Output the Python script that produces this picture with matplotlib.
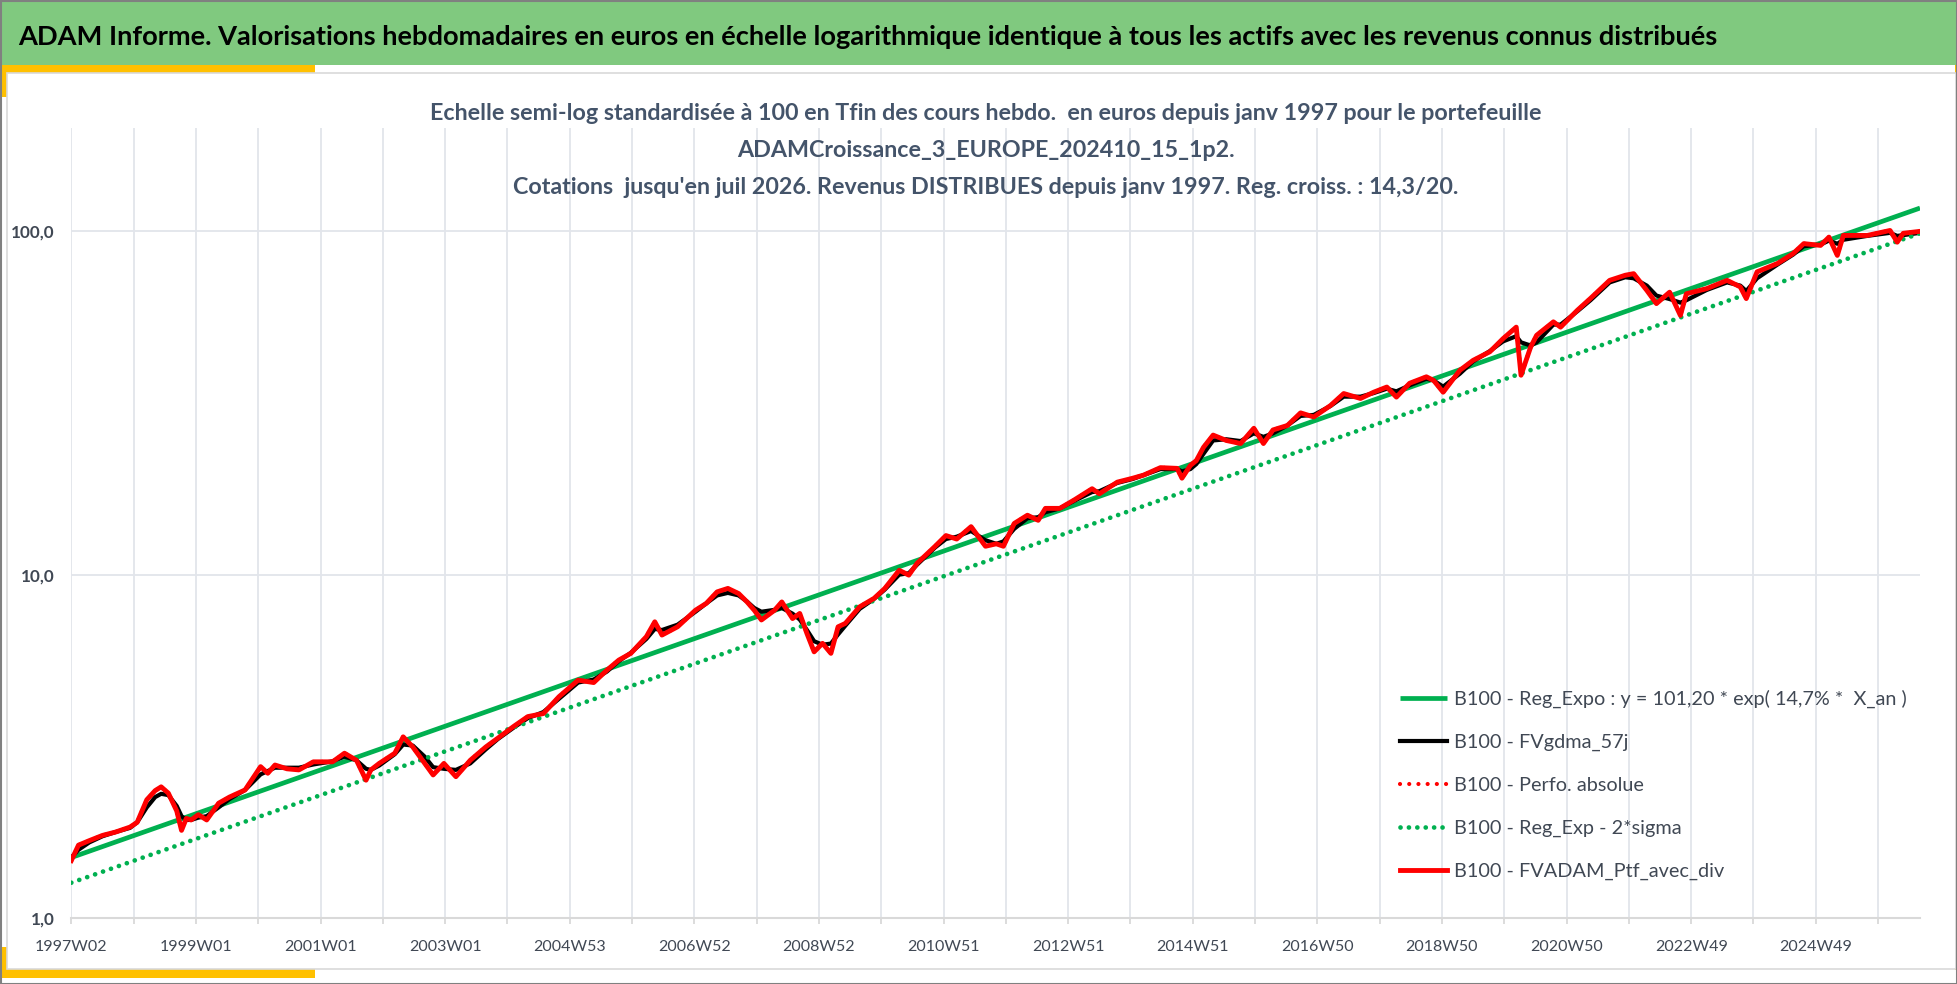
import matplotlib
matplotlib.use("Agg")
import matplotlib.pyplot as plt
from matplotlib.patches import Rectangle
from matplotlib.ticker import FixedLocator, FixedFormatter, NullLocator

W, H = 1958, 984
POLICE = ["Lato", "DejaVu Sans"]

# semaines depuis 1997W02 (index de la categorie hebdo)
semaines = [0, 6, 15, 26, 37, 49, 55, 63, 70, 75, 81, 88, 92, 96, 100, 106, 113, 123, 132, 145,
            158, 164, 170, 180, 190, 202, 218, 228, 238, 246, 250, 257, 270, 277, 285, 295, 302, 311,
            321, 333, 346, 356, 369, 381, 394, 407, 423, 436, 447, 457, 467, 480, 487, 493, 506, 521,
            530, 539, 548, 557, 564, 570, 576, 587, 593, 602, 608, 614, 620, 627, 634, 640, 646, 658,
            670, 679, 691, 699, 706, 721, 730, 739, 751, 763, 772, 778, 787, 798, 807, 813, 825, 837,
            852, 858, 873, 886, 895, 909, 923, 927, 934, 939, 945, 953, 964, 976, 987, 995, 1003, 1015,
            1026, 1037, 1051, 1062, 1076, 1087, 1098, 1106, 1117, 1131, 1137, 1145, 1159, 1170, 1184,
            1195, 1206, 1210, 1218, 1223, 1237, 1243, 1257, 1268, 1284, 1297, 1304, 1315, 1323, 1334,
            1343, 1348, 1365, 1382, 1393, 1398, 1407, 1424, 1437, 1446, 1460, 1467, 1474, 1479, 1499,
            1518, 1524, 1529, 1543]

ptf_avec_div = [1.47, 1.63, 1.68, 1.74, 1.78, 1.84, 1.90, 2.21, 2.35, 2.41, 2.31, 2.05, 1.80, 1.95, 1.93,
                2.00, 1.93, 2.16, 2.25, 2.36, 2.76, 2.64, 2.79, 2.72, 2.70, 2.85, 2.85, 3.02, 2.88, 2.52,
                2.70, 2.82, 3.02, 3.37, 3.15, 2.82, 2.61, 2.82, 2.58, 2.88, 3.15, 3.34, 3.61, 3.86, 3.94,
                4.41, 4.93, 4.85, 5.27, 5.64, 5.90, 6.60, 7.29, 6.67, 7.05, 7.88, 8.25, 8.91, 9.12, 8.81,
                8.33, 7.88, 7.38, 7.88, 8.33, 7.45, 7.71, 6.74, 5.96, 6.31, 5.90, 7.05, 7.21, 8.06, 8.53,
                9.12, 10.3, 9.97, 10.8, 12.1, 13.0, 12.7, 13.8, 12.1, 12.3, 12.1, 14.1, 14.9, 14.4, 15.6,
                15.6, 16.5, 17.8, 17.2, 18.6, 19.1, 19.5, 20.5, 20.4, 19.1, 20.8, 21.5, 23.5, 25.5, 24.6,
                24.1, 26.7, 24.1, 26.4, 27.2, 29.6, 28.8, 31.1, 33.7, 32.6, 34.0, 35.2, 32.9, 36.1, 37.7,
                36.8, 34.0, 39.4, 42.1, 44.6, 48.7, 52.6, 38.1, 46.0, 49.8, 54.5, 52.6, 58.9, 63.8, 72.0,
                74.5, 75.3, 67.3, 61.6, 66.5, 56.9, 65.8, 68.1, 72.0, 68.9, 63.7, 76.2, 80.6, 86.1, 92.1,
                91.0, 96.2, 85.1, 97.3, 97.3, 100.6, 93.0, 98.7, 100.0]

fvgdma_57j = [1.50, 1.58, 1.66, 1.73, 1.78, 1.83, 1.90, 2.10, 2.25, 2.30, 2.28, 2.12, 1.98, 1.93, 1.93,
              1.96, 1.98, 2.10, 2.22, 2.36, 2.62, 2.68, 2.74, 2.74, 2.74, 2.80, 2.86, 2.95, 2.88, 2.72,
              2.70, 2.78, 3.00, 3.20, 3.18, 2.95, 2.75, 2.72, 2.70, 2.82, 3.10, 3.32, 3.58, 3.82, 3.98,
              4.35, 4.85, 4.95, 5.22, 5.60, 5.92, 6.50, 6.95, 6.90, 7.15, 7.80, 8.25, 8.70, 8.85, 8.70,
              8.35, 8.00, 7.80, 7.90, 8.00, 7.70, 7.40, 6.90, 6.40, 6.25, 6.30, 6.70, 7.10, 7.95, 8.50,
              9.05, 10.0, 10.1, 10.7, 12.0, 12.7, 12.9, 13.4, 12.6, 12.3, 12.5, 13.6, 14.6, 14.7, 15.2,
              15.6, 16.4, 17.4, 17.5, 18.5, 19.0, 19.5, 20.3, 20.3, 20.0, 20.3, 21.0, 22.5, 24.6, 24.8,
              24.5, 25.8, 25.2, 25.8, 27.2, 29.0, 29.2, 31.0, 33.0, 33.0, 33.8, 34.8, 34.2, 35.6, 37.2,
              36.8, 35.3, 38.5, 41.8, 44.8, 47.8, 49.5, 47.5, 46.5, 47.5, 53.5, 53.5, 58.5, 63.0, 71.0,
              73.5, 73.0, 69.5, 65.0, 63.5, 62.0, 63.0, 67.5, 71.0, 69.5, 67.0, 73.0, 80.0, 85.5, 90.5,
              91.5, 94.0, 92.0, 94.5, 97.0, 99.0, 97.0, 97.5, 99.0]

# droites de regression (debut / fin de periode)
reg_semaines = [0, 1543]
reg_expo = [1.50, 116.9]
reg_moins_2sigma = [1.267, 98.7]

etiquettes_x = ["1997W02", "1999W01", "2001W01", "2003W01", "2004W53", "2006W52", "2008W52",
                "2010W51", "2012W51", "2014W51", "2016W50", "2018W50", "2020W50", "2022W49", "2024W49"]
valeurs_y = [1, 10, 100]
etiquettes_y = ["1,0", "10,0", "100,0"]

legendes = ["B100 - Reg_Expo : y = 101,20 * exp( 14,7% *  X_an )",
            "B100 - FVgdma_57j",
            "B100 - Perfo. absolue",
            "B100 - Reg_Exp - 2*sigma",
            "B100 - FVADAM_Ptf_avec_div"]

titre = ("ADAM Informe. Valorisations hebdomadaires en euros en échelle logarithmique identique "
         "à tous les actifs avec les revenus connus distribués")
sous_titre = ["Echelle semi-log standardisée à 100 en Tfin des cours hebdo.  en euros depuis janv 1997 pour le portefeuille",
              "ADAMCroissance_3_EUROPE_202410_15_1p2.",
              "Cotations  jusqu'en juil 2026. Revenus DISTRIBUES depuis janv 1997. Reg. croiss. : 14,3/20."]

fig = plt.figure(figsize=(W / 100, H / 100), dpi=100)
fig.patch.set_facecolor("white")
rend = fig.canvas.get_renderer()


def fx(px):
    return px / W


def fy(py):
    return 1 - py / H


def taille(txt, largeur, poids="normal"):
    t = fig.text(0, 0, txt, fontsize=20, family=POLICE, fontweight=poids)
    w = t.get_window_extent(rend).width
    t.remove()
    return 20 * largeur / w


def rect(x0, y0, x1, y1, **kw):
    fig.add_artist(Rectangle((fx(x0), fy(y1)), fx(x1 - x0), (y1 - y0) / H,
                             transform=fig.transFigure, **kw))


# cadre, bandeau et coins jaunes
jaune = "#FFC000"
rect(0, 0, W, 65, facecolor="#80C97F", edgecolor="none", zorder=-5)
rect(0, 65, 315, 73, facecolor=jaune, edgecolor="none", zorder=-5)
rect(0, 65, 7, 97, facecolor=jaune, edgecolor="none", zorder=-5)
rect(0, 969, 315, 978, facecolor=jaune, edgecolor="none", zorder=-5)
rect(0, 947, 7, 978, facecolor=jaune, edgecolor="none", zorder=-5)
rect(1955, 65, W, 97, facecolor=jaune, edgecolor="none", zorder=-5)
rect(1955, 947, W, 970, facecolor=jaune, edgecolor="none", zorder=-5)
rect(7, 73, 1956, 969, facecolor="white", edgecolor="#D9D9D9", lw=1.2, zorder=-4)
rect(0.5, 0.5, W - 0.5, H - 0.5, fill=False, edgecolor="#808080", lw=1.5, zorder=10)

# titres
t = fig.text(fx(18), fy(45), titre, ha="left", va="baseline", color="black",
             fontweight="bold", family=POLICE, fontsize=taille(titre, 1709, "bold"))
fs_sous = taille(sous_titre[0], 1115, "bold")
for i, ligne in enumerate(sous_titre):
    fig.text(fx(985.5), fy(120 + 37 * i), ligne, ha="center", va="baseline", color="#44546A",
             fontweight="bold", family=POLICE, fontsize=fs_sous)

# graphique
ax = fig.add_axes([fx(71.3), fy(918), fx(1920 - 71.3), (918 - 128) / H])
ax.patch.set_alpha(0)
ax.set_yscale("log")

ax.plot(reg_semaines, reg_expo, color="#00B050", lw=3.4, solid_capstyle="butt",
        label=legendes[0], zorder=2)
ax.plot(semaines, fvgdma_57j, color="black", lw=3.0, label=legendes[1], zorder=3)
ax.plot(semaines, ptf_avec_div, color="#FF0000", lw=3.0, linestyle=(0, (0.01, 2.2)),
        dash_capstyle="round", label=legendes[2], zorder=4)
ax.plot(reg_semaines, reg_moins_2sigma, color="#00B050", lw=3.4, linestyle=(0, (0.01, 1.77)),
        dash_capstyle="round", label=legendes[3], zorder=5)
ax.plot(semaines, ptf_avec_div, color="#FF0000", lw=3.5, solid_joinstyle="round",
        label=legendes[4], zorder=6)

ax.set_xlim(0, 1543)
ax.set_ylim(1, 200)

ax.xaxis.set_major_locator(FixedLocator(range(0, 1457, 104)))
ax.xaxis.set_major_formatter(FixedFormatter(etiquettes_x))
ax.xaxis.set_minor_locator(FixedLocator(range(52, 1543, 104)))
ax.yaxis.set_major_locator(FixedLocator(valeurs_y))
ax.yaxis.set_major_formatter(FixedFormatter(etiquettes_y))
ax.yaxis.set_minor_locator(NullLocator())

gris_grille = "#E2E5EB"
ax.grid(True, which="both", axis="x", color=gris_grille, lw=1.3, zorder=0)
ax.grid(True, which="major", axis="y", color=gris_grille, lw=1.3, zorder=0)
ax.set_axisbelow(True)

for cote in ["top", "right", "left"]:
    ax.spines[cote].set_visible(False)
ax.spines["bottom"].set_color("#D9D9D9")
ax.spines["bottom"].set_linewidth(1.5)

coul_txt = "#404854"
fs_x = taille("1997W02", 72)
fs_y = taille("100,0", 44, "bold")
ax.tick_params(axis="x", which="both", length=4, width=1.3, color="#D9D9D9", pad=12,
               labelsize=fs_x, labelcolor=coul_txt)
ax.tick_params(axis="y", which="both", length=0, pad=12, labelsize=fs_y, labelcolor=coul_txt)
for lab in ax.get_xticklabels():
    lab.set_family(POLICE)
for lab in ax.get_yticklabels():
    lab.set_family(POLICE)
    lab.set_fontweight("bold")

fs_leg = taille("B100 - FVADAM_Ptf_avec_div", 270)
leg = ax.legend(loc="center left", bbox_to_anchor=(fx(1400), fy(785)), bbox_transform=fig.transFigure,
                frameon=False, borderpad=0, borderaxespad=0, handlelength=47 / fs_leg * 0.72,
                handletextpad=0.33, labelspacing=1.3,
                prop={"family": POLICE, "size": fs_leg})
for txt in leg.get_texts():
    txt.set_color(coul_txt)

fig.savefig("out.png", dpi=100)
